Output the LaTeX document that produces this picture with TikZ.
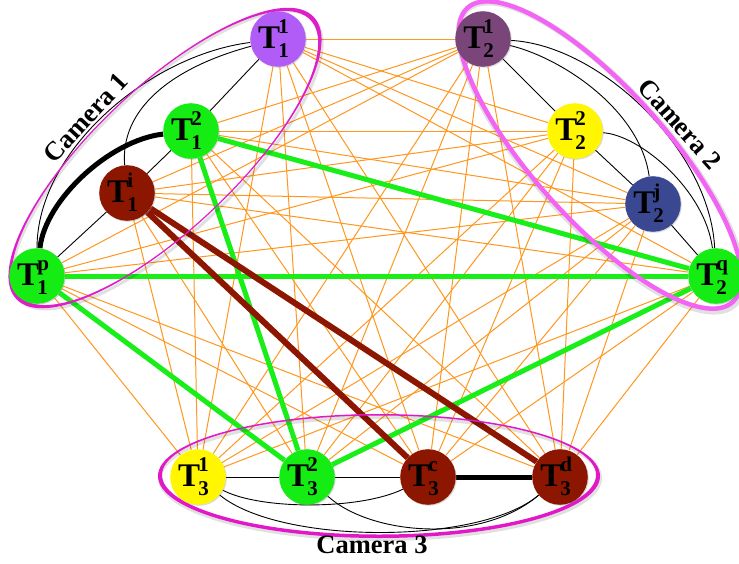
\documentclass[tikz,border=0pt]{standalone}
\usepackage{fontspec}
\setmainfont{Liberation Serif}
\usetikzlibrary{shadows}

\definecolor{orangeE}{RGB}{255,150,30}
\definecolor{greenE}{RGB}{25,238,25}
\definecolor{redE}{RGB}{140,22,0}
\definecolor{purpleN}{RGB}{178,92,248}
\definecolor{greenN}{RGB}{20,236,20}
\definecolor{redN}{RGB}{140,22,0}
\definecolor{mauveN}{RGB}{122,70,122}
\definecolor{yellowN}{RGB}{255,246,0}
\definecolor{navyN}{RGB}{58,72,146}
\definecolor{camA}{RGB}{222,30,200}
\definecolor{camB}{RGB}{244,100,244}
\definecolor{camC}{RGB}{226,24,200}

\pgfdeclarelayer{back}
\pgfsetlayers{back,main}

% track label: bold T with stacked superscript and subscript
\newcommand\tlab[2]{T\kern-2pt\rlap{\raisebox{15pt}{\fontsize{21}{21}\selectfont #1}}\raisebox{-9pt}{\fontsize{21}{21}\selectfont #2}\kern9pt}

\begin{document}
\begin{tikzpicture}[x=1pt,y=-1pt,
  track/.style={circle, minimum size=44pt, inner sep=0pt, text height=29pt, text depth=10pt,
    font=\bfseries\fontsize{33}{33}\selectfont,
    drop shadow={shadow xshift=1pt, shadow yshift=-1pt, opacity=0.3}},
  cross/.style={orangeE, line width=1pt},
  linkA/.style={greenE, line width=5pt},
  linkB/.style={redE, line width=6pt},
  intra/.style={black, line width=0.9pt},
  intrabold/.style={black, line width=5pt},
  ringshade/.style={black, opacity=0.12},
  camlabel/.style={font=\bfseries\fontsize{26.5}{26.5}\selectfont, inner sep=0pt}]

\useasboundingbox (0,0) rectangle (739,563);

% camera 1 tracks
\node[track, fill=purpleN] (T11) at (278,39)  {\tlab{1}{1}};
\node[track, fill=greenN]  (T12) at (191,131) {\tlab{2}{1}};
\node[track, fill=redN]    (T1i) at (127,193) {\tlab{i}{1}};
\node[track, fill=greenN]  (T1p) at (37,276)  {\tlab{p}{1}};
% camera 2 tracks
\node[track, fill=mauveN]  (T21) at (483,39)  {\tlab{1}{2}};
\node[track, fill=yellowN] (T22) at (575,131) {\tlab{2}{2}};
\node[track, fill=navyN]   (T2j) at (653,204) {\tlab{j}{2}};
\node[track, fill=greenN]  (T2q) at (716,276) {\tlab{q}{2}};
% camera 3 tracks
\node[track, fill=yellowN] (T31) at (198,477) {\tlab{1}{3}};
\node[track, fill=greenN]  (T32) at (307,477) {\tlab{2}{3}};
\node[track, fill=redN]    (T3c) at (428,477) {\tlab{c}{3}};
\node[track, fill=redN]    (T3d) at (560,477) {\tlab{d}{3}};

\begin{pgfonlayer}{back}
  % candidate links between cameras
  \foreach \a in {T11,T12,T1i,T1p}
    \foreach \b in {T21,T22,T2j,T2q,T31,T32,T3c,T3d}
      \draw[cross] (\a) -- (\b);
  \foreach \a in {T21,T22,T2j,T2q}
    \foreach \b in {T31,T32,T3c,T3d}
      \draw[cross] (\a) -- (\b);

  % selected links
  \draw[linkA] (T12) -- (T2q);
  \draw[linkA] (T1p) -- (T2q);
  \draw[linkA] (T12) -- (T32);
  \draw[linkA] (T1p) -- (T32);
  \draw[linkA] (T2q) -- (T32);
  \draw[linkB] (T1i) -- (T3c);
  \draw[linkB] (T1i) -- (T3d);

  % links inside camera 1
  \draw[intra] (T11) -- (T12);
  \draw[intra] (T12) -- (T1i);
  \draw[intra] (T1i) -- (T1p);
  \draw[intra] (T11) .. controls (150,55) and (37,150) .. (T1p);
  \draw[intra] (T11) .. controls (170,68) and (120,110) .. (T1i);
  \draw[intrabold] (T12) .. controls (110,140) and (45,200) .. (T1p);

  % links inside camera 2
  \draw[intra] (T21) -- (T22);
  \draw[intra] (T22) -- (T2j);
  \draw[intra] (T2j) -- (T2q);
  \draw[intra] (T21) .. controls (600,45) and (710,150) .. (T2q);
  \draw[intra] (T21) .. controls (562,58) and (640,110) .. (T2j);
  \draw[intra] (T22) .. controls (640,135) and (705,190) .. (T2q);

  % links inside camera 3
  \draw[intra] (T31) -- (T32);
  \draw[intra] (T32) -- (T3c);
  \draw[intrabold] (T3c) -- (T3d);
  \draw[intra] (T31) .. controls (260,510) and (360,510) .. (T3c);
  \draw[intra] (T31) .. controls (280,545) and (480,545) .. (T3d);
  \draw[intra] (T32) .. controls (370,535) and (480,545) .. (T3d);

  % soft shade under the camera groups
  \draw[ringshade, line width=3pt, rotate around={43.5:(167,160)}]
    (167,160) ellipse [x radius=203pt, y radius=71pt];
  \draw[ringshade, line width=6pt, rotate around={-48:(601,157)}]
    (601,157) ellipse [x radius=199pt, y radius=67pt];
  \draw[ringshade, line width=4pt]
    (380,478) ellipse [x radius=220pt, y radius=61pt];

  % camera groups
  \fill[camA, even odd rule, rotate around={43.5:(165,158)}]
    (165,158) ellipse [x radius=205pt, y radius=71pt]
    (165,158) ellipse [x radius=200.5pt, y radius=69.8pt];
  \draw[camB, line width=4.5pt, rotate around={-48:(600,155)}]
    (600,155) ellipse [x radius=198pt, y radius=66pt];
  \fill[camC, even odd rule]
    (379,476) ellipse [x radius=221pt, y radius=62pt]
    (379,475) ellipse [x radius=217pt, y radius=59.5pt];
\end{pgfonlayer}

\node[camlabel, rotate=47.5] (cam1) at (86,118) {Camera 1};
\node[camlabel, rotate=-48] (cam2) at (680,124) {Camera 2};
\node[camlabel] (cam3) at (372,545) {Camera 3};
\end{tikzpicture}
\end{document}
